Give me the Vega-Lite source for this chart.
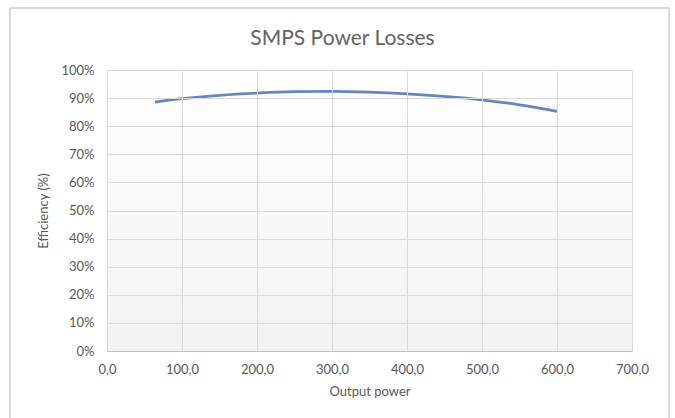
{
  "$schema": "https://vega.github.io/schema/vega-lite/v6.json",
  "width": 525,
  "height": 281,
  "autosize": {"type": "none"},
  "padding": {"left": 107, "top": 70, "right": 43, "bottom": 67},
  "background": "#ffffff",
  "config": {
    "locale": {"number": {"decimal": ",", "thousands": ".", "grouping": [3], "currency": ["", " €"]}},
    "font": "Lato",
    "view": {"stroke": null},
    "axis": {"labelFont": "Lato", "titleFont": "Lato", "labelColor": "#595959", "titleColor": "#595959", "labelFontSize": 13, "titleFontSize": 13, "titleFontWeight": "normal", "gridColor": "#d9d9d9", "gridWidth": 1, "ticks": false, "tickSize": 0}
  },
  "title": {"text": "SMPS Power Losses", "font": "Lato", "fontSize": 21, "fontWeight": "normal", "color": "#636363", "anchor": "middle", "frame": "group", "dx": -27, "offset": -41},
  "data": {"values": [
    {"power": 64, "eff": 0.886},
    {"power": 100, "eff": 0.898},
    {"power": 150, "eff": 0.910},
    {"power": 200, "eff": 0.918},
    {"power": 250, "eff": 0.923},
    {"power": 300, "eff": 0.924},
    {"power": 350, "eff": 0.921},
    {"power": 400, "eff": 0.915},
    {"power": 450, "eff": 0.906},
    {"power": 500, "eff": 0.894},
    {"power": 550, "eff": 0.876},
    {"power": 600, "eff": 0.853}
  ]},
  "layer": [
    {
      "mark": {"type": "rect", "fill": null, "stroke": "#d9d9d9", "strokeWidth": 1, "clip": false},
      "encoding": {
        "x": {"datum": -129.3, "type": "quantitative", "scale": {"domain": [0, 700]},
          "axis": {"title": "Output power", "format": ".1f", "values": [0,100,200,300,400,500,600,700], "grid": true, "zindex": 1, "labelOverlap": false, "domain": true, "domainColor": "#bfbfbf", "labelPadding": 12, "titlePadding": 9, "labelFlush": false}},
        "x2": {"datum": 749.3},
        "y": {"datum": 1.2206, "type": "quantitative", "scale": {"domain": [0, 1]},
          "axis": {"title": "Efficiency (%)", "format": ".0%", "values": [0,0.1,0.2,0.3,0.4,0.5,0.6,0.7,0.8,0.9,1], "grid": true, "zindex": 1, "labelOverlap": false, "domain": false, "labelPadding": 13, "titlePadding": 10, "titleFontSize": 13}},
        "y2": {"datum": -0.3}
      }
    },
    {
      "mark": {"type": "rect", "color": {"gradient": "linear", "x1": 0, "y1": 0, "x2": 0, "y2": 1, "stops": [{"offset": 0, "color": "#ffffff"}, {"offset": 1, "color": "#f2f2f2"}]}},
      "encoding": {
        "x": {"datum": 0, "type": "quantitative",
          "axis": {"title": "Output power", "format": ".1f", "values": [0,100,200,300,400,500,600,700], "grid": true, "zindex": 1, "labelOverlap": false, "domain": true, "domainColor": "#bfbfbf", "labelPadding": 12, "titlePadding": 9, "labelFlush": false}},
        "x2": {"datum": 700},
        "y": {"datum": 0, "type": "quantitative",
          "axis": {"title": "Efficiency (%)", "format": ".0%", "values": [0,0.1,0.2,0.3,0.4,0.5,0.6,0.7,0.8,0.9,1], "grid": true, "zindex": 1, "labelOverlap": false, "domain": false, "labelPadding": 13, "titlePadding": 10, "titleFontSize": 13}},
        "y2": {"datum": 1}
      }
    },
    {
      "mark": {"type": "line", "color": "#6685bf", "strokeWidth": 2.75, "interpolate": "monotone"},
      "encoding": {
        "x": {"field": "power", "type": "quantitative", "scale": {"domain": [0, 700]},
          "axis": {"title": "Output power", "format": ".1f", "values": [0,100,200,300,400,500,600,700], "grid": true, "zindex": 1, "labelOverlap": false, "domain": true, "domainColor": "#bfbfbf", "labelPadding": 12, "titlePadding": 9, "labelFlush": false}},
        "y": {"field": "eff", "type": "quantitative", "scale": {"domain": [0, 1]},
          "axis": {"title": "Efficiency (%)", "format": ".0%", "values": [0,0.1,0.2,0.3,0.4,0.5,0.6,0.7,0.8,0.9,1], "grid": true, "zindex": 1, "labelOverlap": false, "domain": false, "labelPadding": 13, "titlePadding": 10, "titleFontSize": 13}}
      }
    }
  ]
}
